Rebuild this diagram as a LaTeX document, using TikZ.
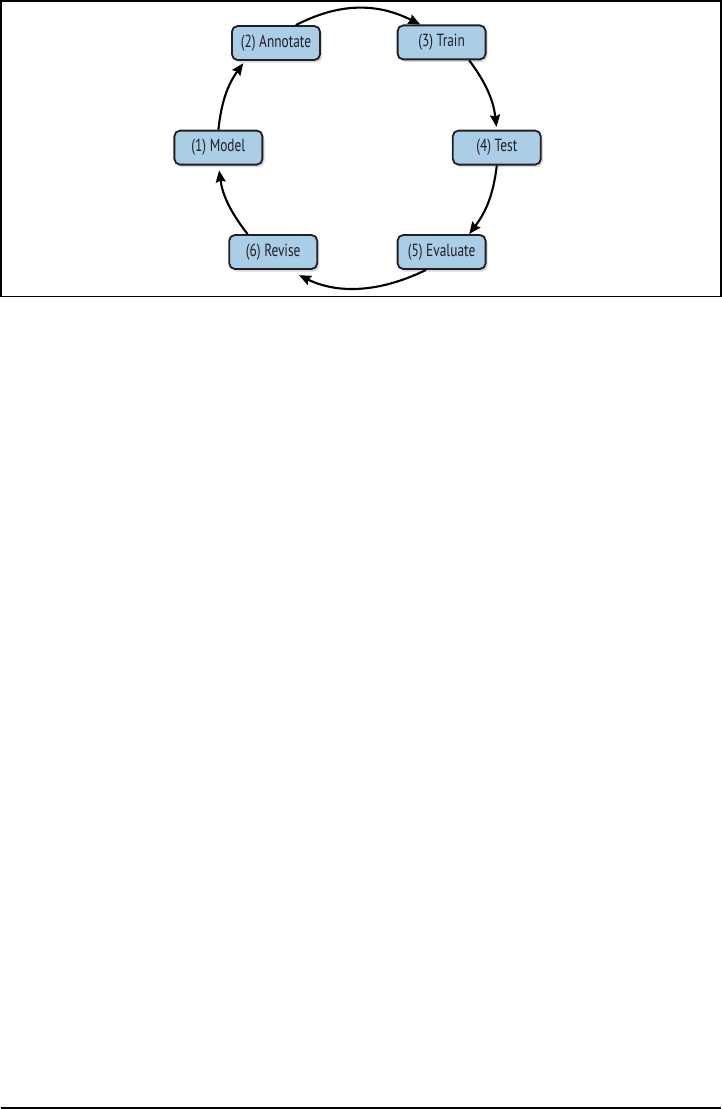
\documentclass[tikz,border=0pt]{standalone}
\usepackage{fontspec}
\setmainfont{PT Sans}[FakeStretch=0.76]
\usetikzlibrary{arrows.meta, shadows}
\definecolor{stepblue}{RGB}{170,205,232}
\definecolor{inkgray}{RGB}{35,31,32}

\begin{document}
\begin{tikzpicture}[
    >={Stealth[length=3mm, width=2.5mm, inset=0.4mm]},
    stage/.style={draw=inkgray, line width=1.3pt, rectangle, rounded corners=4pt, fill=stepblue, minimum width=2.2cm, minimum height=0.85cm, align=center, font=\fontsize{12.5}{14}\selectfont, text=inkgray, drop shadow={shadow xshift=1.5pt, shadow yshift=-1.8pt, opacity=0.3}},
    flow/.style={->, line width=1.5pt, draw=black}
]

    % Page and frame
    \useasboundingbox (0,0) rectangle (18.05,-27.725);
    \draw[line width=1.1pt] (0.03,-0.03) rectangle (18.02,-7.41);
    \draw[line width=1.3pt] (0.03,-27.69) -- (18.02,-27.69);

    % Stages
    \node[stage] (model) at (5.46,-3.69) {(1) Model};
    \node[stage] (annotate) at (6.90,-1.075) {(2) Annotate};
    \node[stage] (train) at (11.04,-1.06) {(3) Train};
    \node[stage] (test) at (12.42,-3.69) {(4) Test};
    \node[stage] (evaluate) at (11.04,-6.30) {(5) Evaluate};
    \node[stage] (revise) at (6.83,-6.30) {(6) Revise};

    % Cycle
    \draw[flow] (annotate.42) to[bend left=27] (train.140);
    \draw[flow, shorten >=2pt] (train.-33) to[bend left=15] (test.north);
    \draw[flow] (test.south) to[bend left=15] (evaluate.33);
    \draw[flow, shorten >=0.3cm] (evaluate.-131) to[bend left=26] (revise.-50);
    \draw[flow, shorten >=0.12cm] (revise.145) to[bend left=15] (model.south);
    \draw[flow, shorten >=2pt] (model.north) to[bend left=15] (annotate.-150);

\end{tikzpicture}
\end{document}
